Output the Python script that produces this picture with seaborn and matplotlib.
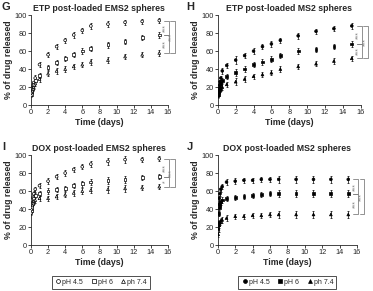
import numpy as np
import pandas as pd
import matplotlib
matplotlib.use("Agg")
import matplotlib.pyplot as plt
import seaborn as sns
from matplotlib.lines import Line2D

# time points (days)
days = [0.04, 0.08, 0.17, 0.25, 0.33, 0.5, 1, 2, 3, 4, 5, 6, 7, 9, 11, 13, 15]
groups = ["pH 4.5", "pH 6", "ph 7.4"]

# G: ETP post-loaded EMS2
g_45 = [13, 16, 19, 22, 25, 30, 45, 56, 65, 72, 78, 83, 88, 90, 92, 93, 94]
g_6 = [12, 15, 18, 20, 23, 27, 33, 42, 47, 52, 56, 60, 63, 67, 71, 75, 78]
g_74 = [11, 14, 16, 18, 20, 24, 29, 35, 38, 40, 43, 45, 48, 50, 54, 56, 58]
g_err = [2, 2, 2, 2, 2, 3, 3, 3, 3, 3, 3, 3, 3, 3, 3, 3, 3]

# H: ETP post-loaded MS2
h_45 = [14, 18, 22, 26, 30, 38, 44, 50, 55, 60, 65, 68, 72, 77, 82, 85, 88]
h_6 = [12, 15, 18, 21, 24, 27, 32, 36, 40, 45, 48, 51, 55, 60, 62, 65, 68]
h_74 = [10, 12, 14, 16, 18, 20, 23, 26, 29, 32, 34, 36, 40, 43, 46, 49, 52]
h_err = [2, 2, 2, 2, 2, 3, 3, 4, 3, 3, 3, 3, 3, 3, 3, 3, 3]

# I: DOX post-loaded EMS2
i_45 = [40, 45, 50, 53, 57, 62, 66, 71, 76, 80, 84, 87, 90, 93, 95, 95, 96]
i_6 = [38, 42, 46, 49, 52, 55, 57, 60, 62, 63, 66, 68, 70, 72, 73, 75, 76]
i_74 = [36, 40, 44, 47, 49, 50, 52, 52, 54, 56, 58, 60, 61, 62, 63, 64, 65]
i_err = [3, 3, 3, 3, 3, 3, 3, 3, 3, 3, 3, 3, 3, 4, 4, 3, 3]

# J: DOX post-loaded MS2
j_45 = [35, 45, 52, 57, 62, 65, 70, 71, 72, 72, 73, 73, 73, 73, 73, 73, 73]
j_6 = [25, 35, 42, 45, 48, 50, 52, 53, 54, 55, 56, 57, 57, 57, 57, 57, 57]
j_74 = [12, 18, 22, 25, 27, 28, 30, 32, 32, 33, 33, 34, 34, 34, 34, 34, 34]
j_err = [3, 3, 3, 3, 3, 3, 3, 3, 3, 3, 3, 3, 4, 4, 4, 4, 4]

sns.set_style("ticks")
plt.rcParams["font.family"] = ["Liberation Sans", "DejaVu Sans"]

fig = plt.figure(figsize=(3.73, 2.91), dpi=100)

panels = [
    ("G", "ETP post-loaded EMS2 spheres", [g_45, g_6, g_74], g_err, False,
     [0.083, 0.639, 0.367, 0.309], ["***", "***", "***"], (0.005, 0.975)),
    ("H", "ETP post-loaded MS2 spheres", [h_45, h_6, h_74], h_err, True,
     [0.584, 0.639, 0.383, 0.309], ["***", "***", "***"], (0.5, 0.975)),
    ("I", "DOX post-loaded EMS2 spheres", [i_45, i_6, i_74], i_err, False,
     [0.083, 0.158, 0.367, 0.309], ["***", "*", "***"], (0.005, 0.495)),
    ("J", "DOX post-loaded MS2 spheres", [j_45, j_6, j_74], j_err, True,
     [0.584, 0.158, 0.373, 0.309], ["***", "***", "***"], (0.5, 0.495)),
]
markers = {"pH 4.5": "o", "pH 6": "s", "ph 7.4": "^"}

for letter, title, series, err, filled, rect, stars, lpos in panels:
    ax = fig.add_axes(rect)
    df = pd.DataFrame({
        "day": days * 3,
        "val": series[0] + series[1] + series[2],
        "grp": [g for g in groups for _ in days],
    })
    for s in series:
        ax.errorbar(days, s, yerr=err, fmt="none", ecolor="black",
                    elinewidth=0.5, capsize=1.0, capthick=0.5, zorder=2)
    sns.scatterplot(data=df, x="day", y="val", style="grp", markers=markers,
                    color="black" if filled else "white",
                    edgecolor="black", linewidth=0.5, s=4, legend=False,
                    ax=ax, zorder=3)
    ax.set_xlim(0, 16)
    ax.set_ylim(0, 100)
    ax.set_xticks(range(0, 17, 2))
    ax.set_yticks(range(0, 101, 20))
    ax.tick_params(labelsize=5.3, length=2, width=0.6, pad=1)
    sns.despine(ax=ax)
    for sp in ax.spines.values():
        sp.set_linewidth(0.6)
    ax.set_xlabel("Time (days)", fontsize=6.3, fontweight="bold", labelpad=1)
    ax.set_ylabel("% of drug released", fontsize=6.3, fontweight="bold", labelpad=1)
    ax.set_title(title, fontsize=6.3, fontweight="bold", pad=3)
    fig.text(lpos[0], lpos[1], letter, fontsize=8, fontweight="bold",
             ha="left", va="center")

    # significance brackets
    top, mid, bot = series[0][-1], series[1][-1], series[2][-1]
    gray = "0.5"
    for (y1, y2), x0, st in [((top, mid), 15.6, stars[0]),
                              ((mid, bot), 15.6, stars[1]),
                              ((top, bot), 16.3, stars[2])]:
        w = 0.55
        ax.plot([x0, x0 + w, x0 + w, x0], [y1, y1, y2, y2], color=gray,
                lw=0.6, clip_on=False)
        ax.text(x0 + w * 0.4, (y1 + y2) / 2, st, rotation=90, fontsize=5,
                color=gray, ha="center", va="center", clip_on=False)

# legends
for x0, filled in [(0.13, False), (0.63, True)]:
    handles = [Line2D([], [], ls="none", marker=markers[g], ms=2.8,
                      mfc="black" if filled else "white", mec="black", mew=0.5,
                      label=g) for g in groups]
    fig.legend(handles=handles, loc="center left", bbox_to_anchor=(x0, 0.03),
               ncol=3, fontsize=5, frameon=True, fancybox=False,
               edgecolor="black", handletextpad=0.1, columnspacing=1.0,
               handlelength=1, borderpad=0.4).get_frame().set_linewidth(0.6)

fig.savefig("out.png", dpi=100)
